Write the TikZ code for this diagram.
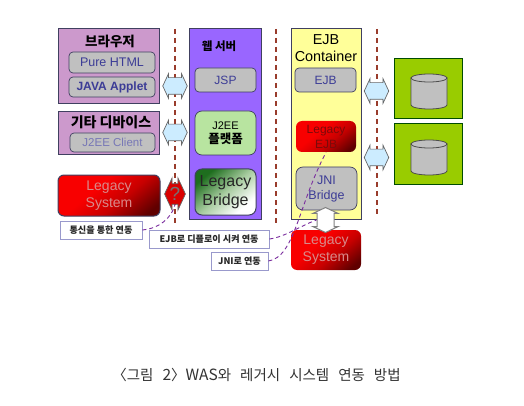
\documentclass[tikz,border=0pt]{standalone}
\usepackage{fontspec}
\setmainfont{Liberation Sans}
\newfontfamily\krf{Noto Sans CJK KR}
\usetikzlibrary{shapes.arrows}
\definecolor{clientbg}{HTML}{CC99CC}
\definecolor{edgedark}{HTML}{404060}
\definecolor{innerbg}{HTML}{C0C0C0}
\definecolor{innertx}{HTML}{3C3C96}
\definecolor{webbg}{HTML}{9966FF}
\definecolor{j2eebg}{HTML}{B8E4A0}
\definecolor{ejbbg}{HTML}{FFFF99}
\definecolor{dbbg}{HTML}{99CC00}
\definecolor{sepline}{HTML}{993C2C}
\definecolor{arrowbg}{HTML}{CCECFF}
\definecolor{labeledge}{HTML}{9999CC}
\definecolor{linkline}{HTML}{7A2C9E}
\definecolor{legacytx}{HTML}{D88A8A}
\definecolor{captiontx}{HTML}{333333}
\definecolor{lejbtx}{HTML}{7A0A0A}
\definecolor{lgdark}{HTML}{600000}
\definecolor{lgmid}{HTML}{C80000}
\definecolor{lgbright}{HTML}{F80000}
\definecolor{brdark}{HTML}{1E6E1E}
\definecolor{brmid}{HTML}{A8CCA0}
\pgfdeclareverticalshading{legacyred}{100bp}{color(0bp)=(lgdark); color(22bp)=(lgdark); color(42bp)=(lgmid); color(60bp)=(lgbright); color(100bp)=(lgbright)}
\pgfdeclareverticalshading{bridgegreen}{100bp}{color(0bp)=(white); color(28bp)=(white); color(50bp)=(brmid); color(74bp)=(brdark); color(100bp)=(brdark)}
\tikzset{
  box/.style={draw=edgedark,line width=1pt,inner sep=0pt,align=center,anchor=center},
  clientbox/.style={box,fill=clientbg},
  innerbox/.style={box,fill=innerbg,rounded corners=4pt,line width=0.7pt,text=innertx,font=\fontsize{12.5}{14}\selectfont},
  legacybox/.style={box,rounded corners=6pt,shade,shading=legacyred,shading angle=40,text=legacytx,font=\fontsize{14}{17}\selectfont},
  sepdash/.style={draw=sepline,line width=1.2pt,dash pattern=on 5pt off 4pt},
  linkdash/.style={draw=linkline,line width=0.9pt,dash pattern=on 4pt off 3pt},
  labelbox/.style={draw=labeledge,fill=white,line width=0.8pt,inner sep=0pt,font=\krf\bfseries\fontsize{9.1}{10}\selectfont,text=black!85},
  dblarrow/.style={double arrow,draw=black!60,line width=0.7pt,fill=arrowbg,inner sep=8pt,minimum width=24pt,minimum height=20pt,double arrow head extend=4pt,double arrow tip angle=130},
  dbcyl/.style={draw=black!70,line width=0.8pt,fill=innerbg},
}
% name, x1, y1, x2, y2, style, text
\newcommand{\pxbox}[7]{%
  \pgfmathsetmacro{\pxw}{#4-#2}\pgfmathsetmacro{\pxh}{#5-#3}%
  \pgfmathsetmacro{\pxx}{(#2+#4)/2}\pgfmathsetmacro{\pxy}{(#3+#5)/2}%
  \node[#6,minimum width=\pxw pt,minimum height=\pxh pt] (#1) at (\pxx,\pxy) {#7};}
% cylinder: centre x, top y, bottom y
\newcommand{\pxcyl}[3]{%
  \draw[dbcyl] (#1-18,#2) -- (#1-18,#3) arc[start angle=180,end angle=360,x radius=18pt,y radius=4pt] -- (#1+18,#2) -- cycle;
  \draw[dbcyl] (#1,#2) ellipse[x radius=18pt,y radius=4pt];}
\newcommand{\capgap}{\kern9pt }
\begin{document}
\begin{tikzpicture}[x=1pt,y=-1pt]
\useasboundingbox (0,0) rectangle (524,406);
\fill[white] (0,0) rectangle (524,406);

% separators
\coordinate (s1a) at (175,29); \coordinate (s1b) at (175,224);
\coordinate (s2a) at (276,29); \coordinate (s2b) at (276,224);
\coordinate (s3a) at (377,29); \coordinate (s3b) at (377,217);
\draw[sepdash] (s1a) -- (s1b);
\draw[sepdash] (s2a) -- (s2b);
\draw[sepdash] (s3a) -- (s3b);

% clients
\pxbox{browser}{58}{29}{159}{104}{clientbox}{}
\node[font=\krf\bfseries\fontsize{13.5}{14}\selectfont] (browsert) at (110,41) {브라우저};
\pxbox{html}{69}{52}{155}{73}{innerbox}{Pure HTML}
\pxbox{applet}{69}{77}{155}{97}{innerbox,font=\bfseries\fontsize{12}{14}\selectfont}{JAVA Applet}
\pxbox{device}{58}{112}{159}{155}{clientbox}{}
\node[font=\krf\bfseries\fontsize{14}{14}\selectfont] (devicet) at (111,122.5) {기타 디바이스};
\pxbox{client}{70}{133}{155}{152}{innerbox,text=innertx!70!white,font=\fontsize{11.5}{14}\selectfont}{J2EE Client}
\pxbox{legacya}{58}{175}{160}{216}{legacybox}{Legacy\\System}

% web server
\pxbox{web}{189}{29}{261}{219}{box,fill=webbg}{}
\node[font=\krf\bfseries\fontsize{11.5}{14}\selectfont] (webt) at (219,46) {웹 서버};
\pxbox{jsp}{195}{68}{256}{92}{innerbox,font=\fontsize{12}{14}\selectfont}{JSP}
\pxbox{j2ee}{195}{111}{256}{155}{innerbox,fill=j2eebg,text=black,rounded corners=7pt,font=\fontsize{11}{9}\selectfont}{J2EE\\[2pt]{\krf\bfseries\fontsize{12.5}{9}\selectfont 플랫폼}}
\pxbox{bridge}{195}{169}{256}{215}{box,rounded corners=7pt,shade,shading=bridgegreen,shading angle=40,text=black!85,font=\fontsize{16}{19}\selectfont}{Legacy\\Bridge}

% EJB container
\pxbox{ejbc}{291}{29}{361}{219}{box,fill=ejbbg}{}
\node[font=\fontsize{14.4}{17}\selectfont,align=center] (ejbct) at (326,48) {EJB\\Container};
\pxbox{ejb}{295}{68}{356}{92}{innerbox,font=\fontsize{12}{14}\selectfont}{EJB}
\pxbox{lejb}{296}{121}{356}{152}{legacybox,draw=none,text=lejbtx,font=\fontsize{12}{15}\selectfont}{Legacy\\EJB}
\pxbox{jni}{296}{167}{357}{210}{innerbox,rounded corners=7pt,font=\fontsize{12.5}{15}\selectfont}{JNI\\Bridge}
\pxbox{legacyb}{291}{230}{361}{270}{legacybox,draw=none}{Legacy\\System}

% databases
\pxbox{dba}{394}{59}{462}{119}{box,fill=dbbg,draw=black!70!green}{}
\pxbox{dbb}{394}{124}{462}{184}{box,fill=dbbg,draw=black!70!green}{}
\pxcyl{429}{78}{105}
\pxcyl{429}{144}{171}

% double arrows
\node[dblarrow] (a1) at (175,86) {};
\node[dblarrow] (a2) at (175,132.5) {};
\node[dblarrow,fill=red!85!black,minimum width=32pt,inner ysep=2pt,inner xsep=0pt,double arrow head extend=5pt,text=black!55,font=\fontsize{19}{19}\selectfont] (a3) at (175,194) {?};
\node[dblarrow] (a4) at (376.5,91) {};
\node[dblarrow] (a5) at (376.5,157.5) {};
\node[dblarrow,shape border rotate=90,fill=white,draw=black!50,line width=1pt,minimum width=25pt,minimum height=20pt] (a6) at (325.5,220) {};

% labels
\pxbox{la}{60}{221}{142}{239}{labelbox}{통신을 통한 연동}
\pxbox{lb}{149}{230}{269}{248}{labelbox}{EJB로 디플로이 시켜 연동}
\pxbox{lc}{211}{252}{268}{270}{labelbox}{JNI로 연동}

% link lines
\draw[linkdash] (la.east) .. controls (158,229) and (172,218) .. (a3.south);
\draw[linkdash] (lb.east) .. controls (285,237) and (300,226) .. (a6.west);
\draw[linkdash] (lc.east) .. controls (295,257) and (298,205) .. (lejb.south);

% caption
\node[font=\krf\fontsize{14.5}{15}\selectfont,text=captiontx] (caption) at (256.5,374.5) {〈그림\capgap{\fontsize{15.5}{15}\selectfont 2}〉{\fontsize{15.5}{15}\selectfont WAS}와\capgap 레거시\capgap 시스템\capgap 연동\capgap 방법};
\end{tikzpicture}
\end{document}
